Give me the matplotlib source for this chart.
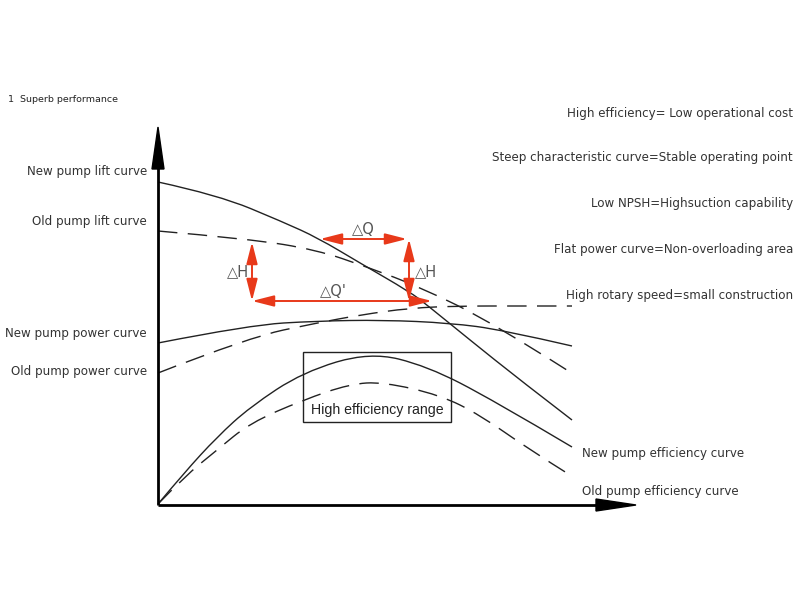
import matplotlib
matplotlib.use("Agg")
import matplotlib.pyplot as plt
from matplotlib.patches import Rectangle, FancyArrowPatch, Polygon, PathPatch
from matplotlib.path import Path

plt.rcParams['font.family'] = ['DejaVu Sans']

# ---- data (chart units: Q rightwards from origin, value upwards from origin) ----
new_lift_q = [0, 60, 125, 160, 202, 252, 269, 312, 362, 414]
new_lift_h = [323, 310, 283, 267, 242, 213, 200, 165, 125, 85]

old_lift_q = [0, 92, 159, 209, 262, 335, 412]
old_lift_h = [274, 266, 255, 238, 218, 182, 133]

new_power_q = [0, 92, 159, 225, 292, 345, 414]
new_power_h = [162, 180, 184, 185, 182, 175, 159]

old_power_q = [0, 92, 159, 202, 252, 302, 360, 414]
old_power_h = [132, 168, 182, 190, 197, 199, 199, 199]

new_eff_q = [0, 26, 59, 92, 145, 212, 269, 335, 414]
new_eff_h = [1, 32, 68, 98, 133, 153, 139, 105, 58]

old_eff_q = [0, 26, 59, 92, 145, 192, 225, 282, 322, 372, 412]
old_eff_h = [1, 28, 55, 82, 105, 121, 123, 110, 90, 55, 30]

left_labels = ["New pump lift curve", "Old pump lift curve",
               "New pump power curve", "Old pump power curve"]
left_label_h = [334, 284, 172, 133]

right_labels = ["High efficiency= Low operational cost",
                "Steep characteristic curve=Stable operating point",
                "Low NPSH=Highsuction capability",
                "Flat power curve=Non-overloading area",
                "High rotary speed=small construction"]
right_label_h = [392, 347, 301, 256, 210]

eff_labels = ["New pump efficiency curve", "Old pump efficiency curve"]
eff_label_h = [52, 14]

# red delta markers: (q0, h0, q1, h1)
delta_arrows = [(162, 266, 249, 266),   # ΔQ
                (251, 266, 251, 204),   # ΔH right
                (94, 263, 94, 204),     # ΔH left
                (94, 204, 274, 204)]    # ΔQ'
delta_texts = [("△Q", 205, 275), ("△H", 268, 233), ("△H", 80, 233), ("△Q'", 175, 213)]

box_q = (145, 293)
box_h = (83, 153)

# ---- figure ----
fig = plt.figure(figsize=(8, 6), dpi=100)
ax = fig.add_axes([0, 0, 1, 1])
ax.set_xlim(-158, 642)
ax.set_ylim(-95, 505)
ax.axis('off')

curve_col = '#222222'
dash = (0, (14, 7.5))


def smooth_curve(q, h, **kw):
    """Draw a smooth quadratic-Bezier path using the read points as control points."""
    verts = [(q[0], h[0])]
    codes = [Path.MOVETO]
    n = len(q)
    for i in range(1, n - 1):
        mid = ((q[i] + q[i + 1]) / 2, (h[i] + h[i + 1]) / 2)
        end = mid if i < n - 2 else (q[i + 1], h[i + 1])
        verts += [(q[i], h[i]), end]
        codes += [Path.CURVE3, Path.CURVE3]
    ax.add_patch(PathPatch(Path(verts, codes), fill=False, **kw))


smooth_curve(new_lift_q, new_lift_h, edgecolor=curve_col, lw=1.0)
smooth_curve(old_lift_q, old_lift_h, edgecolor=curve_col, lw=1.0, linestyle=dash)
smooth_curve(new_power_q, new_power_h, edgecolor=curve_col, lw=1.0)
smooth_curve(old_power_q, old_power_h, edgecolor=curve_col, lw=1.0, linestyle=dash)
smooth_curve(new_eff_q, new_eff_h, edgecolor=curve_col, lw=1.0)
smooth_curve(old_eff_q, old_eff_h, edgecolor=curve_col, lw=1.0, linestyle=dash)

# axes with arrows
ax.plot([0, 0], [0, 340], color='black', lw=2.0, solid_capstyle='butt')
ax.plot([0, 440], [0, 0], color='black', lw=2.0, solid_capstyle='butt')
ax.add_patch(Polygon([[-6, 336], [6, 336], [0, 378]], closed=True, color='black'))
ax.add_patch(Polygon([[438, -6], [438, 6], [478, 0]], closed=True, color='black'))

# red delta arrows
red = '#e8391a'
for q0, h0, q1, h1 in delta_arrows:
    ax.add_patch(FancyArrowPatch((q0, h0), (q1, h1),
                                 arrowstyle='<|-|>,head_length=1.1,head_width=0.28',
                                 mutation_scale=12, color=red, lw=1.4,
                                 shrinkA=0, shrinkB=0))
for t, q, h in delta_texts:
    ax.text(q, h, t, fontsize=10.5, color='#555555', ha='center', va='center')

# efficiency box
ax.add_patch(Rectangle((box_q[0], box_h[0]), box_q[1] - box_q[0], box_h[1] - box_h[0],
                       fill=False, edgecolor='#222222', lw=1.0))
ax.text((box_q[0] + box_q[1]) / 2, box_h[0] + 12, "High efficiency range",
        fontsize=10.2, color='#222222', ha='center', va='center',
        family=['Liberation Sans', 'DejaVu Sans'])

# labels
txt_col = '#333333'
for t, h in zip(left_labels, left_label_h):
    ax.text(-11, h, t, fontsize=8.6, color=txt_col, ha='right', va='center')
for t, h in zip(right_labels, right_label_h):
    ax.text(635, h, t, fontsize=8.6, color=txt_col, ha='right', va='center')
for t, h in zip(eff_labels, eff_label_h):
    ax.text(424, h, t, fontsize=8.6, color=txt_col, ha='left', va='center')
ax.text(-150, 405, "1  Superb performance", fontsize=6.8, color='#222222',
        ha='left', va='center')

fig.savefig('out.png', dpi=100)
